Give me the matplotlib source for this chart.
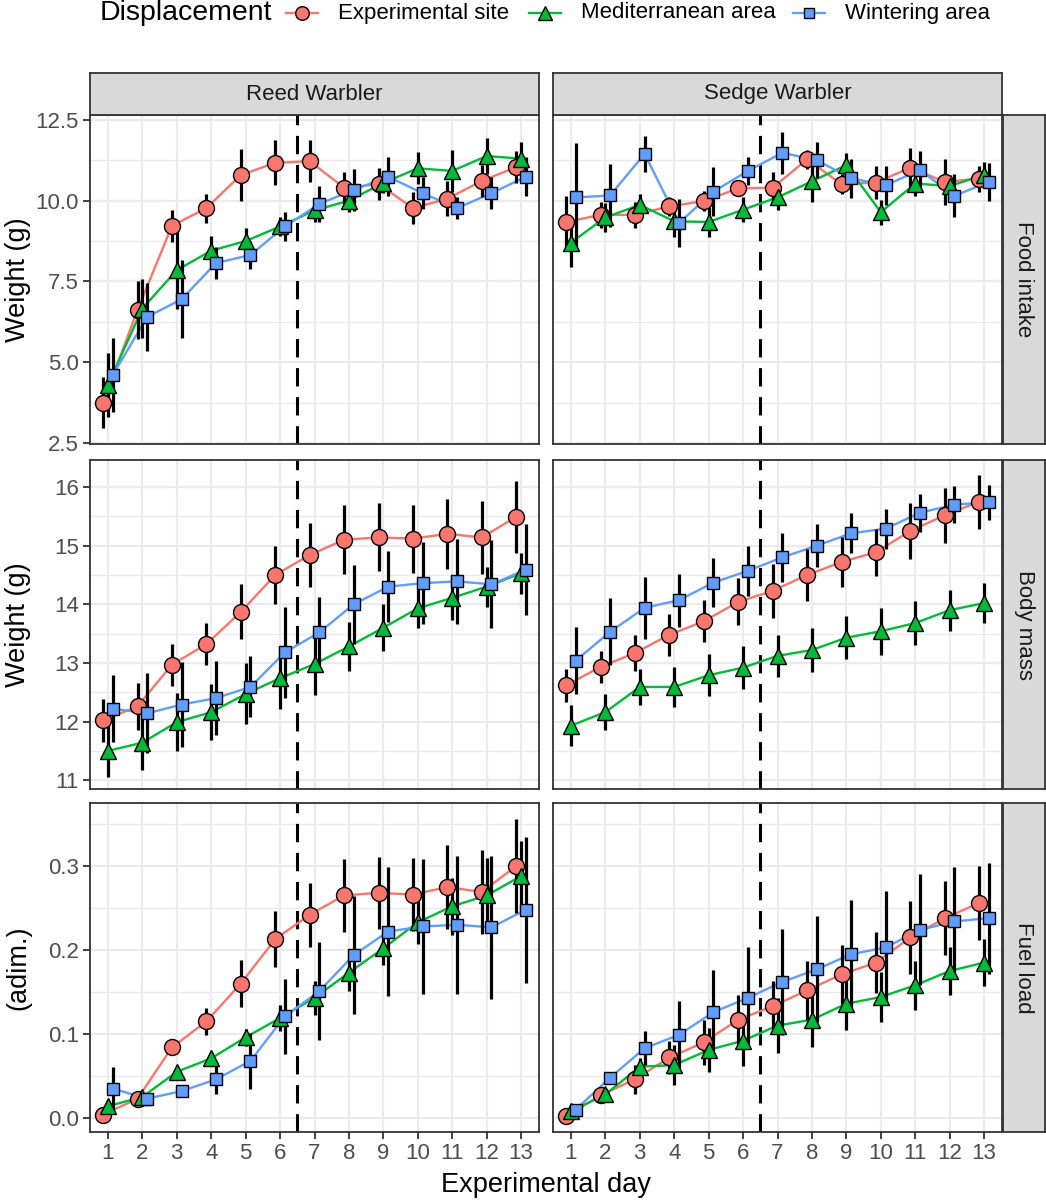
import numpy as np
import matplotlib
matplotlib.use("Agg")
from matplotlib import pyplot as plt

plt.rcParams['font.family'] = ['Liberation Sans', 'DejaVu Sans']

days = list(range(1, 14))
groups = ["Experimental site", "Mediterranean area", "Wintering area"]
species = ["Reed Warbler", "Sedge Warbler"]
measures = ["Food intake", "Body mass", "Fuel load"]
ylabels = ["Weight (g)", "Weight (g)", "(adim.)"]

# food intake
reed_food_exp = [3.75, 6.62, 9.22, 9.77, 10.79, 11.17, 11.22, 10.40, 10.51, 9.77, 10.06, 10.61, 11.04]
reed_food_exp_se = [0.8, 0.9, 0.5, 0.45, 0.8, 0.7, 0.65, 0.5, 0.5, 0.5, 0.55, 0.5, 0.5]
reed_food_med = [4.3, 6.66, 7.85, 8.45, 8.75, 9.2, 9.7, 10.0, 10.55, 11.0, 10.92, 11.38, 11.3]
reed_food_med_se = [1.0, 0.9, 1.2, 0.45, 0.4, 0.3, 0.35, 0.35, 0.3, 0.5, 0.65, 0.55, 0.5]
reed_food_win = [4.6, 6.4, 6.95, 8.07, 8.32, 9.2, 9.9, 10.33, 10.74, 10.23, 9.77, 10.23, 10.74]
reed_food_win_se = [1.15, 1.05, 1.2, 0.5, 0.42, 0.45, 0.55, 0.65, 0.6, 0.5, 0.33, 0.5, 0.6]

sedge_food_exp = [9.34, 9.56, 9.56, 9.82, 9.99, 10.38, 10.4, 11.28, 10.51, 10.56, 11.02, 10.58, 10.68]
sedge_food_exp_se = [0.8, 0.4, 0.4, 0.3, 0.3, 0.2, 0.5, 0.3, 0.3, 0.5, 0.6, 0.7, 0.4]
sedge_food_med = [8.7, 9.48, 9.87, 9.36, 9.34, 9.72, 10.1, 10.6, 11.1, 9.64, 10.53, 10.45, 10.8]
sedge_food_med_se = [0.75, 0.45, 0.35, 0.5, 0.45, 0.38, 0.38, 0.64, 0.38, 0.38, 0.38, 0.35, 0.4]
sedge_food_win = [10.1, 10.16, 11.45, 9.31, 10.28, 10.92, 11.48, 11.25, 10.69, 10.48, 10.94, 10.15, 10.58]
sedge_food_win_se = [1.67, 0.97, 0.56, 0.75, 0.77, 0.43, 0.65, 0.55, 0.6, 0.6, 0.6, 0.67, 0.6]

# body mass
reed_mass_exp = [12.02, 12.26, 12.97, 13.32, 13.87, 14.5, 14.84, 15.1, 15.14, 15.12, 15.2, 15.14, 15.49]
reed_mass_exp_se = [0.37, 0.4, 0.36, 0.36, 0.47, 0.5, 0.55, 0.59, 0.58, 0.58, 0.6, 0.62, 0.62]
reed_mass_med = [11.5, 11.64, 11.99, 12.16, 12.47, 12.74, 12.98, 13.28, 13.6, 13.93, 14.11, 14.3, 14.53]
reed_mass_med_se = [0.45, 0.47, 0.49, 0.48, 0.52, 0.53, 0.52, 0.42, 0.4, 0.33, 0.37, 0.34, 0.35]
reed_mass_win = [12.22, 12.14, 12.29, 12.4, 12.59, 13.18, 13.52, 14.0, 14.3, 14.36, 14.39, 14.34, 14.59]
reed_mass_win_se = [0.57, 0.68, 0.72, 0.63, 0.52, 0.78, 0.6, 0.67, 0.6, 0.7, 0.72, 0.75, 0.78]

sedge_mass_exp = [12.62, 12.93, 13.17, 13.48, 13.71, 14.04, 14.23, 14.5, 14.72, 14.89, 15.25, 15.52, 15.75]
sedge_mass_exp_se = [0.28, 0.27, 0.3, 0.36, 0.36, 0.4, 0.46, 0.45, 0.43, 0.4, 0.47, 0.47, 0.46]
sedge_mass_med = [11.93, 12.16, 12.59, 12.59, 12.79, 12.92, 13.12, 13.22, 13.43, 13.54, 13.68, 13.9, 14.02]
sedge_mass_med_se = [0.35, 0.31, 0.31, 0.34, 0.36, 0.37, 0.36, 0.37, 0.37, 0.4, 0.38, 0.35, 0.34]
sedge_mass_win = [13.04, 13.53, 13.94, 14.07, 14.37, 14.57, 14.8, 15.0, 15.21, 15.29, 15.56, 15.7, 15.74]
sedge_mass_win_se = [0.57, 0.57, 0.53, 0.45, 0.42, 0.43, 0.42, 0.37, 0.34, 0.34, 0.32, 0.31, 0.3]

# fuel load
reed_fuel_exp = [0.004, 0.023, 0.084, 0.115, 0.16, 0.213, 0.242, 0.265, 0.268, 0.266, 0.275, 0.269, 0.30]
reed_fuel_exp_se = [0.003, 0.004, 0.008, 0.016, 0.028, 0.033, 0.038, 0.043, 0.043, 0.043, 0.05, 0.05, 0.056]
reed_fuel_med = [0.014, 0.025, 0.055, 0.071, 0.096, 0.119, 0.143, 0.173, 0.202, 0.233, 0.252, 0.265, 0.288]
reed_fuel_med_se = [0.005, 0.005, 0.006, 0.008, 0.01, 0.016, 0.02, 0.022, 0.02, 0.026, 0.034, 0.045, 0.042]
reed_fuel_win = [0.035, 0.023, 0.032, 0.046, 0.068, 0.121, 0.151, 0.194, 0.222, 0.228, 0.23, 0.227, 0.248]
reed_fuel_win_se = [0.026, 0.004, 0.004, 0.018, 0.033, 0.045, 0.058, 0.07, 0.077, 0.08, 0.082, 0.085, 0.087]

sedge_fuel_exp = [0.002, 0.027, 0.046, 0.072, 0.09, 0.117, 0.133, 0.152, 0.171, 0.185, 0.215, 0.238, 0.256]
sedge_fuel_exp_se = [0.002, 0.005, 0.017, 0.02, 0.027, 0.03, 0.03, 0.035, 0.035, 0.036, 0.043, 0.044, 0.044]
sedge_fuel_med = [0.008, 0.028, 0.061, 0.063, 0.081, 0.092, 0.11, 0.117, 0.136, 0.144, 0.158, 0.175, 0.185]
sedge_fuel_med_se = [0.003, 0.007, 0.01, 0.024, 0.026, 0.03, 0.033, 0.032, 0.031, 0.03, 0.029, 0.028, 0.028]
sedge_fuel_win = [0.01, 0.048, 0.083, 0.099, 0.126, 0.143, 0.162, 0.177, 0.195, 0.203, 0.224, 0.234, 0.238]
sedge_fuel_win_se = [0.003, 0.005, 0.02, 0.04, 0.05, 0.06, 0.063, 0.063, 0.065, 0.067, 0.066, 0.065, 0.066]

panels = [
    [[(reed_food_exp, reed_food_exp_se), (reed_food_med, reed_food_med_se), (reed_food_win, reed_food_win_se)],
     [(sedge_food_exp, sedge_food_exp_se), (sedge_food_med, sedge_food_med_se), (sedge_food_win, sedge_food_win_se)]],
    [[(reed_mass_exp, reed_mass_exp_se), (reed_mass_med, reed_mass_med_se), (reed_mass_win, reed_mass_win_se)],
     [(sedge_mass_exp, sedge_mass_exp_se), (sedge_mass_med, sedge_mass_med_se), (sedge_mass_win, sedge_mass_win_se)]],
    [[(reed_fuel_exp, reed_fuel_exp_se), (reed_fuel_med, reed_fuel_med_se), (reed_fuel_win, reed_fuel_win_se)],
     [(sedge_fuel_exp, sedge_fuel_exp_se), (sedge_fuel_med, sedge_fuel_med_se), (sedge_fuel_win, sedge_fuel_win_se)]],
]

colors = ["#F8766D", "#00BA38", "#619CFF"]
markers = ["o", "^", "s"]
msizes = [11.5, 12, 8.8]
dodge = [-0.14, 0.0, 0.14]

ylims = [(2.47, 12.65), (10.85, 16.46), (-0.0167, 0.375)]
yticks = [[2.5, 5.0, 7.5, 10.0, 12.5], [11, 12, 13, 14, 15, 16], [0.0, 0.1, 0.2, 0.3]]
yticklabels = [["2.5", "5.0", "7.5", "10.0", "12.5"], ["11", "12", "13", "14", "15", "16"],
               ["0.0", "0.1", "0.2", "0.3"]]

W, H = 1046, 1200
fig = plt.figure(figsize=(W / 100, H / 100), dpi=100)

def px_axes(x0, y0, x1, y1):
    return fig.add_axes([x0 / W, 1 - y1 / H, (x1 - x0) / W, (y1 - y0) / H])

col_x = [(90, 539), (553, 1002)]
row_y = [(115, 444), (460, 789), (803, 1132)]
edge = "#333333"
grid_c = "#EBEBEB"
strip_c = "#D9D9D9"

for r in range(3):
    for c in range(2):
        ax = px_axes(col_x[c][0], row_y[r][0], col_x[c][1], row_y[r][1])
        ax.set_xlim(0.48, 13.52)
        ax.set_ylim(*ylims[r])
        # grid: major + minor
        yt = yticks[r]
        step = yt[1] - yt[0]
        for k, v in enumerate(np.arange(yt[0] - step / 2, yt[-1] + step, step / 2)):
            ax.axhline(v, color=grid_c, lw=1.6 if k % 2 == 1 else 0.9, zorder=0)
        for d in days:
            ax.axvline(d, color=grid_c, lw=1.6, zorder=0)
        ax.axvline(6.5, color="black", lw=2.2, ls=(0, (6, 3.5)), zorder=1)
        for g in range(3):
            mean, se = panels[r][c][g]
            x = np.array(days) + dodge[g]
            mean = np.array(mean)
            se = np.array(se)
            ax.plot(x, mean, color=colors[g], lw=1.7, zorder=2)
            ax.vlines(x, mean - se, mean + se, color="black", lw=2.3, zorder=3)
            ax.plot(x, mean, ls="none", marker=markers[g], ms=msizes[g], mfc=colors[g],
                    mec="black", mew=1.0, zorder=4)
        for s in ax.spines.values():
            s.set_color(edge)
            s.set_linewidth(1.3)
        ax.set_yticks(yticks[r])
        ax.set_xticks(days)
        if c == 0:
            ax.set_yticklabels(yticklabels[r], fontsize=16, color="#4D4D4D")
            ax.tick_params(axis="y", length=5, width=1.3, color=edge, pad=3)
            fig.text(18 / W, 1 - (row_y[r][0] + row_y[r][1]) / 2 / H, ylabels[r],
                     rotation=90, ha="center", va="center", fontsize=19.5)
        else:
            ax.set_yticklabels([])
            ax.tick_params(axis="y", length=0)
        if r == 2:
            ax.set_xticklabels([str(d) for d in days], fontsize=16, color="#4D4D4D")
            ax.tick_params(axis="x", length=5, width=1.3, color=edge, pad=3)
        else:
            ax.set_xticklabels([])
            ax.tick_params(axis="x", length=0)

        # top strips
        if r == 0:
            sax = px_axes(col_x[c][0], 73, col_x[c][1], 115)
            sax.set_xticks([]); sax.set_yticks([])
            sax.set_facecolor(strip_c)
            for s in sax.spines.values():
                s.set_color(edge); s.set_linewidth(1.3)
            sax.text(0.5, 0.5, species[c], ha="center", va="center", fontsize=16,
                     color="#1A1A1A", transform=sax.transAxes)
        # right strips
        if c == 1:
            sax = px_axes(1003, row_y[r][0], 1045, row_y[r][1])
            sax.set_xticks([]); sax.set_yticks([])
            sax.set_facecolor(strip_c)
            for s in sax.spines.values():
                s.set_color(edge); s.set_linewidth(1.3)
            sax.text(0.5, 0.5, measures[r], ha="center", va="center", fontsize=16,
                     color="#1A1A1A", rotation=-90, transform=sax.transAxes)

fig.text(546 / W, 1 - 1185 / H, "Experimental day", ha="center", va="center", fontsize=19.5)

# legend drawn in a strip along the top, pixel coordinates
lax = px_axes(0, 0, W, 26)
lax.set_xlim(0, W)
lax.set_ylim(26, 0)
lax.axis("off")
lax.text(100, 13, "Displacement", ha="left", va="center", fontsize=20.5)
key_x = [302, 545, 809]
for g in range(3):
    lax.plot([key_x[g] - 16, key_x[g] + 16], [13, 13], color=colors[g], lw=1.7)
    lax.plot([key_x[g]], [13], ls="none", marker=markers[g], ms=msizes[g] * 0.85,
             mfc=colors[g], mec="black", mew=1.0)
    lax.text(key_x[g] + 36, 13, groups[g], ha="left", va="center", fontsize=16)

fig.savefig("out.png", dpi=100)
